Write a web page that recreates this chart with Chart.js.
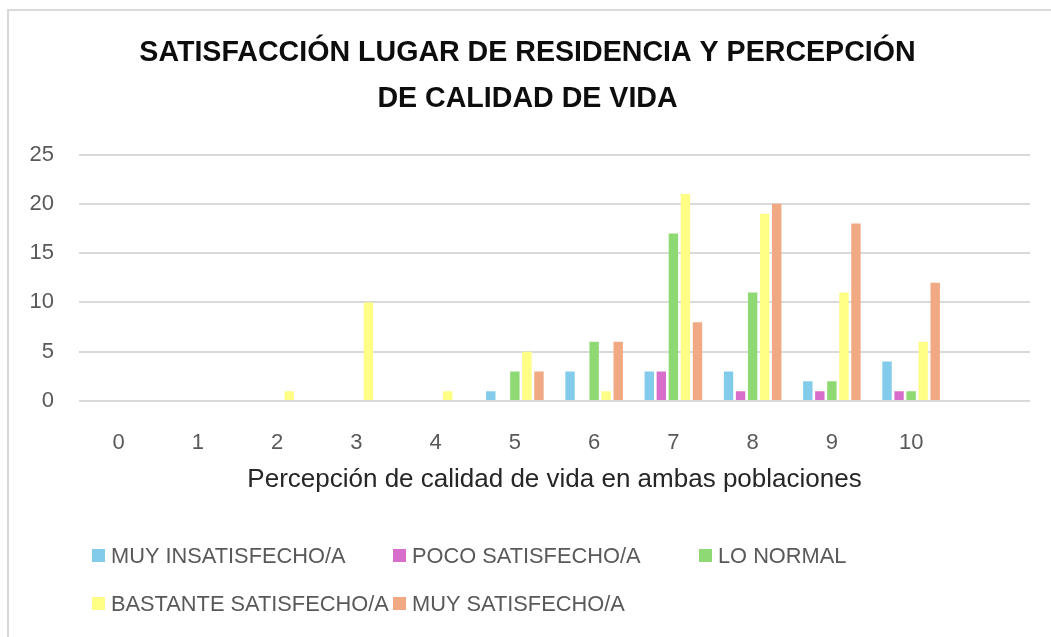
<!DOCTYPE html>
<html>
<head>
<meta charset="utf-8">
<script src="https://cdn.jsdelivr.net/npm/chart.js@4"></script>
<style>
    html, body { margin: 0; padding: 0; background: #ffffff; overflow: hidden; }
    #frame {
        position: absolute; left: 7px; top: 9px; width: 1060px; height: 640px;
        border-left: 2px solid #d9d9d9; border-top: 2px solid #d9d9d9;
    }
    #wrap { position: absolute; left: 0; top: 0; width: 1051px; height: 637px; }
</style>
</head>
<body>
<div id="frame"></div>
<div id="wrap"><canvas id="grafico" width="1051" height="637"></canvas></div>
<script>
// Percepción de calidad de vida (0-10) y satisfacción con el lugar de residencia
var categorias = ['0', '1', '2', '3', '4', '5', '6', '7', '8', '9', '10', ''];
var muyInsatisfecho     = [0, 0, 0, 0, 0, 1, 3, 3, 3, 2, 4, null];
var pocoSatisfecho      = [0, 0, 0, 0, 0, 0, 0, 3, 1, 1, 1, null];
var loNormal            = [0, 0, 0, 0, 0, 3, 6, 17, 11, 2, 1, null];
var bastanteSatisfecho  = [0, 0, 1, 10, 1, 5, 1, 21, 19, 11, 6, null];
var muySatisfecho       = [0, 0, 0, 0, 0, 3, 6, 8, 20, 18, 12, null];

var series = ['MUY INSATISFECHO/A', 'POCO SATISFECHO/A', 'LO NORMAL', 'BASTANTE SATISFECHO/A', 'MUY SATISFECHO/A'];
var colores = ['#83cbeb', '#d86ecc', '#8ed973', '#ffff85', '#f1a983'];
var valores = [muyInsatisfecho, pocoSatisfecho, loNormal, bastanteSatisfecho, muySatisfecho];

var fuente = '"Liberation Sans", Arial, sans-serif';

// Legend drawn as a fixed grid like the original (3 columns)
var leyendaGrid = {
    id: 'leyendaGrid',
    afterDraw: function(chart) {
        var ctx = chart.ctx;
        var cols = [92, 393, 699];
        var rows = [556, 604];
        ctx.save();
        ctx.font = '21.8px ' + fuente;
        ctx.textBaseline = 'middle';
        ctx.textAlign = 'left';
        chart.data.datasets.forEach(function(ds, i) {
            var x = cols[i % 3];
            var y = rows[Math.floor(i / 3)];
            ctx.fillStyle = ds.backgroundColor;
            ctx.fillRect(x, y - 7, 13, 13);
            ctx.fillStyle = '#595959';
            ctx.fillText(ds.label, x + 19, y + 1);
        });
        ctx.restore();
    }
};

var datasets = [];
series.forEach(function(nombre, i) {
    datasets.push({
        label: nombre,
        data: valores[i],
        backgroundColor: colores[i],
        borderWidth: 0,
        categoryPercentage: 0.76,
        barPercentage: 0.78
    });
});

new Chart(document.getElementById('grafico'), {
    type: 'bar',
    data: {
        labels: categorias,
        datasets: datasets
    },
    options: {
        responsive: false,
        animation: false,
        layout: {
            padding: { left: 25, right: 21, top: 0, bottom: 136 }
        },
        plugins: {
            legend: { display: false },
            tooltip: { enabled: false },
            title: {
                display: true,
                text: ['SATISFACCIÓN LUGAR DE RESIDENCIA Y PERCEPCIÓN', 'DE CALIDAD DE VIDA'],
                color: '#0d0d0d',
                font: { family: fuente, size: 28.6, weight: 'bold', lineHeight: 1.6 },
                padding: { top: 30, bottom: 33 }
            }
        },
        scales: {
            x: {
                grid: { display: false },
                border: { display: false },
                ticks: {
                    color: '#595959',
                    font: { family: fuente, size: 22 },
                    padding: 21
                },
                title: {
                    display: true,
                    text: 'Percepción de calidad de vida en ambas poblaciones',
                    color: '#262626',
                    font: { family: fuente, size: 26 },
                    padding: { top: 0, bottom: 6 }
                },
                afterFit: function(scale) { scale.height = 100; }
            },
            y: {
                min: 0,
                max: 25,
                grid: { color: '#d9d9d9', lineWidth: 2, drawTicks: false },
                border: { display: false },
                ticks: {
                    stepSize: 5,
                    color: '#595959',
                    font: { family: fuente, size: 22 },
                    padding: 25
                },
                afterFit: function(scale) { scale.width = 54; }
            }
        }
    },
    plugins: [leyendaGrid]
});
</script>
</body>
</html>
